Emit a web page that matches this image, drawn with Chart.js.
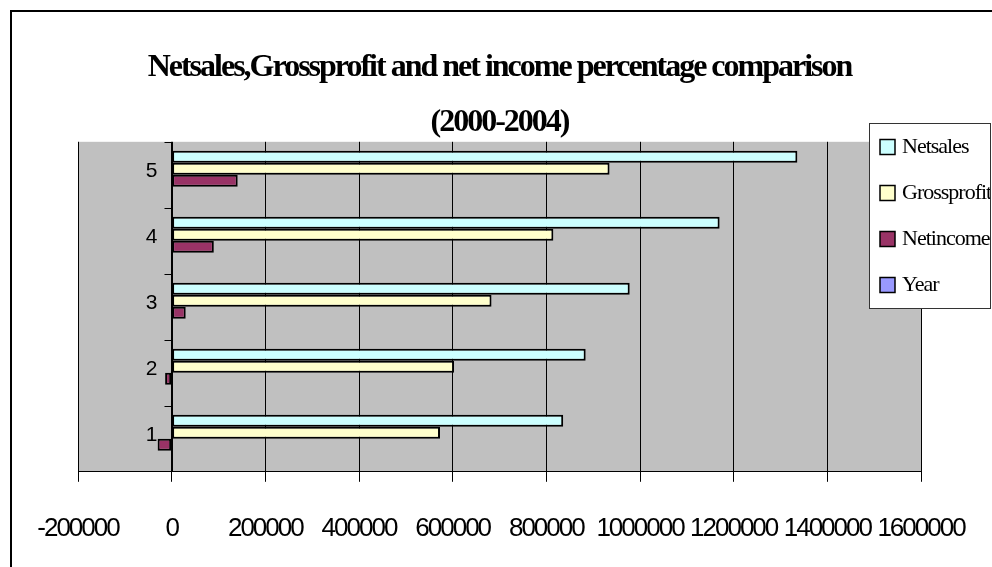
<!DOCTYPE html>
<html>
<head>
<meta charset="utf-8">
<script src="https://cdn.jsdelivr.net/npm/chart.js@4.4.1/dist/chart.umd.min.js"></script>
<style>
  html, body { margin: 0; padding: 0; background: #fff; overflow: hidden; }
  #frame { position: absolute; left: 10px; top: 10px; width: 1100px; height: 700px;
           border-left: 2px solid #000; border-top: 2px solid #000; }
  #wrap { position: absolute; left: 0; top: 0; width: 992px; height: 567px; }
</style>
</head>
<body>
<div id="frame"></div>
<div id="wrap"><canvas id="chart" width="992" height="567"></canvas></div>
<script>
// categories (Excel plotted the row index, the years went in as a series)
const categories = ['1', '2', '3', '4', '5'];
const netsales = [836000, 884000, 978000, 1170000, 1336000];
const grossprofit = [573000, 603000, 683000, 815000, 935000];
const netincome = [-30000, -14000, 30000, 90000, 141000];
const years = [2000, 2001, 2002, 2003, 2004];
const seriesNames = ['Netsales', 'Grossprofit', 'Netincome', 'Year'];
const seriesColors = ['#CCFFFF', '#FFFFCC', '#993366', '#9999FF'];
const xTicks = [-200000, 0, 200000, 400000, 600000, 800000, 1000000, 1200000, 1400000, 1600000];

// squeezed text like the old Excel rendering
const squeeze = {
  id: 'squeeze',
  beforeUpdate(chart) { chart.ctx.letterSpacing = '-2px'; },
  beforeDraw(chart) { chart.ctx.letterSpacing = '-2px'; }
};

// grey plot area
const plotBg = {
  id: 'plotBg',
  beforeDraw(chart) {
    const { ctx, chartArea: a } = chart;
    ctx.save();
    ctx.fillStyle = '#C0C0C0';
    ctx.fillRect(a.left, a.top, a.right - a.left, a.bottom - a.top);
    ctx.restore();
  }
};

// category axis crosses at x = 0, so draw it there
const zeroAxis = {
  id: 'zeroAxis',
  afterDatasetsDraw(chart) {
    const { ctx, chartArea: a } = chart;
    const xs = chart.scales.x, ys = chart.scales.y;
    const x0 = Math.round(xs.getPixelForValue(0)) + 0.5;
    const half = Math.abs(ys.getPixelForValue(1) - ys.getPixelForValue(0)) / 2;
    ctx.save();
    ctx.strokeStyle = '#000';
    ctx.lineWidth = 1;
    ctx.beginPath();
    ctx.moveTo(x0, a.top);
    ctx.lineTo(x0, a.bottom);
    categories.forEach((c, i) => {
      const yb = Math.round(ys.getPixelForValue(i) - half) + 0.5;
      ctx.moveTo(x0 - 8, yb);
      ctx.lineTo(x0, yb);
    });
    ctx.stroke();
    ctx.fillStyle = '#000';
    ctx.font = '21px "Liberation Sans"';
    ctx.textAlign = 'right';
    ctx.textBaseline = 'middle';
    categories.forEach((c, i) => {
      ctx.fillText(c, x0 - 17, ys.getPixelForValue(i) - 4);
    });
    ctx.restore();
  }
};

// boxed legend that sits over the right edge of the plot
const boxLegend = {
  id: 'boxLegend',
  afterDraw(chart) {
    const ctx = chart.ctx;
    const x = 869, y = 123, w = 121, h = 185;
    ctx.save();
    ctx.fillStyle = '#fff';
    ctx.fillRect(x, y, w, h);
    ctx.strokeStyle = '#333';
    ctx.lineWidth = 1;
    ctx.strokeRect(x + 0.5, y + 0.5, w, h);
    ctx.beginPath();
    ctx.rect(x, y, w, h);
    ctx.clip();
    ctx.font = '22px "Liberation Serif"';
    ctx.letterSpacing = '-1px';
    ctx.textBaseline = 'middle';
    chart.data.datasets.forEach((ds, i) => {
      const cy = 147 + i * 46;
      ctx.fillStyle = ds.backgroundColor;
      ctx.fillRect(880, cy - 7.5, 15, 15);
      ctx.strokeStyle = '#000';
      ctx.lineWidth = 1.5;
      ctx.strokeRect(880, cy - 7.5, 15, 15);
      ctx.fillStyle = '#000';
      ctx.fillText(ds.label, 902, cy);
    });
    ctx.restore();
  }
};

const datasets = [netsales, grossprofit, netincome, years].map((vals, i) => ({
  label: seriesNames[i],
  data: vals,
  backgroundColor: seriesColors[i],
  borderColor: '#000',
  borderWidth: 2,
  borderSkipped: false,
  categoryPercentage: 0.727,
  barPercentage: 1.0
}));

new Chart(document.getElementById('chart'), {
  type: 'bar',
  data: { labels: categories, datasets: datasets },
  plugins: [squeeze, plotBg, zeroAxis, boxLegend],
  options: {
    indexAxis: 'y',
    responsive: false,
    animation: false,
    layout: { padding: { left: 78, right: 71, top: 0, bottom: -8 } },
    plugins: {
      legend: { display: false },
      tooltip: { enabled: false },
      title: {
        display: true,
        text: 'Netsales,Grossprofit and net income percentage comparison',
        color: '#000',
        font: { family: '"Liberation Serif"', size: 32, weight: 'bold' },
        padding: { top: 49, bottom: 16 }
      },
      subtitle: {
        display: true,
        text: '(2000-2004)',
        color: '#000',
        font: { family: '"Liberation Serif"', size: 32, weight: 'bold' },
        padding: { top: 0, bottom: 0 }
      }
    },
    scales: {
      x: {
        type: 'linear',
        min: xTicks[0],
        max: xTicks[xTicks.length - 1],
        afterBuildTicks(scale) { scale.ticks = xTicks.map(v => ({ value: v })); },
        // labels may hang past the plot edges, as in the original
        afterFit(scale) { scale.paddingLeft = 0; scale.paddingRight = 0; },
        ticks: {
          color: '#000',
          padding: 31,
          font: { family: '"Liberation Sans"', size: 26 },
          maxRotation: 0,
          autoSkip: false,
          callback: v => String(v)
        },
        grid: { color: '#000', lineWidth: 1, tickLength: 10 },
        border: { color: '#000', width: 1 }
      },
      y: {
        type: 'category',
        reverse: true,
        display: false
      }
    }
  }
});
</script>
</body>
</html>
